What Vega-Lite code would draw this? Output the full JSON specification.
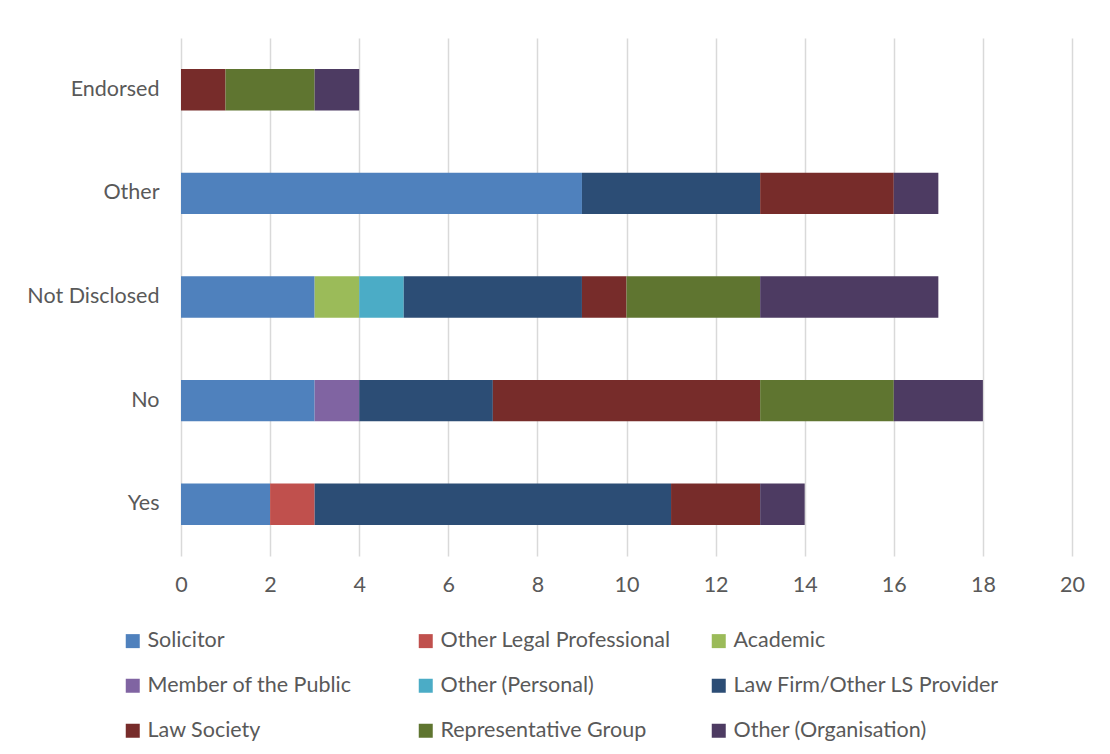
{
  "$schema": "https://vega.github.io/schema/vega-lite/v6.json",
  "width": 891,
  "height": 518,
  "autosize": "none",
  "padding": {"left": 181, "top": 38, "right": 38, "bottom": 198},
  "background": "white",
  "config": {
    "view": {"stroke": null},
    "font": "Lato",
    "axis": {"labelFont": "Lato", "labelFontSize": 21.5, "labelColor": "#595959", "gridColor": "#D9D9D9", "gridWidth": 1.5, "domain": false, "ticks": false}
  },
  "data": {
    "values": [
      {"resp": "Endorsed", "group": "Law Society", "n": 1},
      {"resp": "Endorsed", "group": "Representative Group", "n": 2},
      {"resp": "Endorsed", "group": "Other (Organisation)", "n": 1},
      {"resp": "Other", "group": "Solicitor", "n": 9},
      {"resp": "Other", "group": "Law Firm/Other LS Provider", "n": 4},
      {"resp": "Other", "group": "Law Society", "n": 3},
      {"resp": "Other", "group": "Other (Organisation)", "n": 1},
      {"resp": "Not Disclosed", "group": "Solicitor", "n": 3},
      {"resp": "Not Disclosed", "group": "Academic", "n": 1},
      {"resp": "Not Disclosed", "group": "Other (Personal)", "n": 1},
      {"resp": "Not Disclosed", "group": "Law Firm/Other LS Provider", "n": 4},
      {"resp": "Not Disclosed", "group": "Law Society", "n": 1},
      {"resp": "Not Disclosed", "group": "Representative Group", "n": 3},
      {"resp": "Not Disclosed", "group": "Other (Organisation)", "n": 4},
      {"resp": "No", "group": "Solicitor", "n": 3},
      {"resp": "No", "group": "Member of the Public", "n": 1},
      {"resp": "No", "group": "Law Firm/Other LS Provider", "n": 3},
      {"resp": "No", "group": "Law Society", "n": 6},
      {"resp": "No", "group": "Representative Group", "n": 3},
      {"resp": "No", "group": "Other (Organisation)", "n": 2},
      {"resp": "Yes", "group": "Solicitor", "n": 2},
      {"resp": "Yes", "group": "Other Legal Professional", "n": 1},
      {"resp": "Yes", "group": "Law Firm/Other LS Provider", "n": 8},
      {"resp": "Yes", "group": "Law Society", "n": 2},
      {"resp": "Yes", "group": "Other (Organisation)", "n": 1}
    ]
  },
  "transform": [
    {"calculate": "indexof(['Solicitor','Other Legal Professional','Academic','Member of the Public','Other (Personal)','Law Firm/Other LS Provider','Law Society','Representative Group','Other (Organisation)'], datum.group)", "as": "ord"}
  ],
  "mark": {"type": "bar"},
  "encoding": {
    "y": {
      "field": "resp", "type": "nominal",
      "sort": ["Endorsed", "Other", "Not Disclosed", "No", "Yes"],
      "scale": {"paddingInner": 0.6, "paddingOuter": 0.3},
      "axis": {"title": null, "labelPadding": 22, "grid": false}
    },
    "x": {
      "field": "n", "type": "quantitative", "aggregate": "sum",
      "scale": {"domain": [0, 20], "nice": false},
      "axis": {"title": null, "values": [0,2,4,6,8,10,12,14,16,18,20], "labelPadding": 18, "grid": true, "labelFlush": false, "labelOverlap": false}
    },
    "order": {"field": "ord", "type": "quantitative", "sort": "ascending"},
    "color": {
      "field": "group", "type": "nominal",
      "scale": {
        "domain": ["Solicitor","Member of the Public","Law Society","Other Legal Professional","Other (Personal)","Representative Group","Academic","Law Firm/Other LS Provider","Other (Organisation)"],
        "range": ["#4F81BD","#8064A2","#772C2A","#C0504D","#4BACC6","#5F7530","#9BBB59","#2C4D75","#4D3B62"]
      },
      "legend": {
        "title": null, "orient": "none", "legendX": -59, "legendY": 592,
        "columns": 3, "gridAlign": "all", "columnPadding": 1, "rowPadding": 22,
        "symbolType": "square", "symbolSize": 196, "symbolStrokeWidth": 0,
        "labelFont": "Lato", "labelFontSize": 21.5, "labelColor": "#595959", "labelOffset": 4, "labelLimit": 400, "padding": 0
      }
    }
  }
}
